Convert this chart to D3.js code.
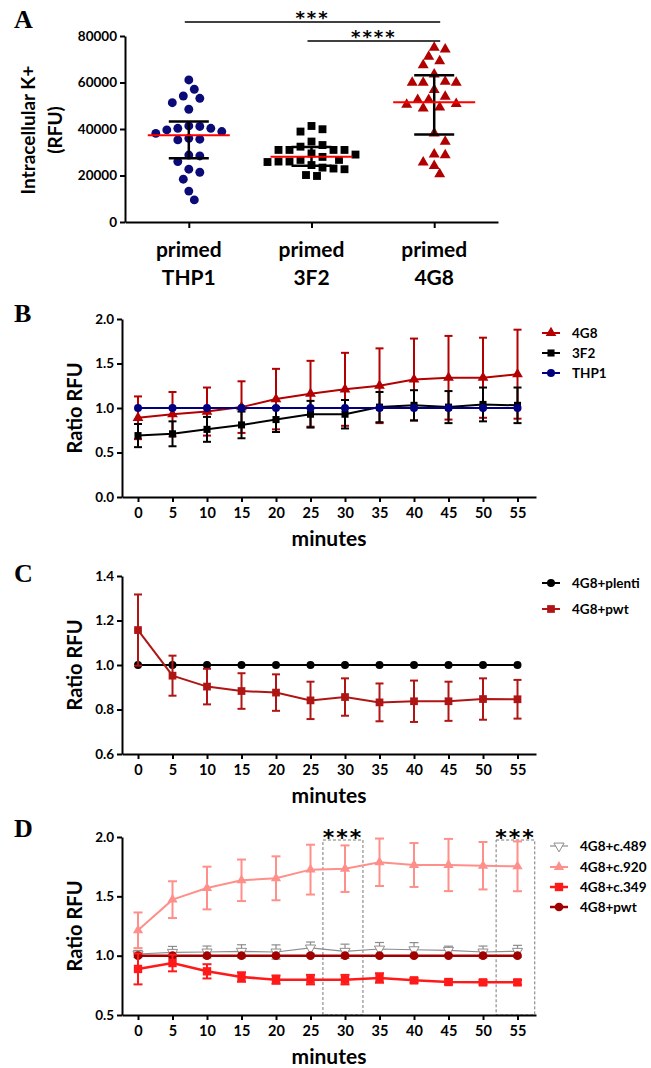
<!DOCTYPE html>
<html>
<head>
<meta charset="utf-8">
<script src="https://cdn.jsdelivr.net/npm/d3@7"></script>
<style>
  body { margin: 0; background: #fff; }
  svg text { font-family: Lato, "Open Sans", sans-serif; font-weight: bold; }
</style>
</head>
<body>
<svg id="fig" width="651" height="1068"></svg>
<script>
// ---- panel A: intracellular K+ scatter ----
const groupsA = ["THP1", "3F2", "4G8"];
const thp1Values = [61100, 57100, 54200, 53200, 51300, 48500, 41300, 41100, 40300, 40300, 39600, 38900,
    38100, 36000, 35600, 35300, 28800, 28400, 26000, 22700, 21400, 18400, 13300, 9500];
const f32Values = [41300, 39900, 38900, 34600, 33100, 32400, 31000, 31000, 31000, 31000, 29500, 29000,
    28000, 26700, 26000, 25800, 26000, 26700, 24500, 23400, 22700, 23000, 19800, 20200];
const g48Values = [75000, 74300, 71100, 69200, 67500, 63500, 60400, 60000, 60000, 60000, 56800, 53900,
    52500, 52500, 50800, 49300, 48900, 50500, 38100, 34600, 29100, 28800, 25700, 24200, 20600];
const meanA = [37300, 28100, 51500];
const upperA = [43200, 32300, 63100];
const lowerA = [27400, 24200, 37600];
const ticksA = [0, 20000, 40000, 60000, 80000];

// ---- time course panels ----
const minutes = [0, 5, 10, 15, 20, 25, 30, 35, 40, 45, 50, 55];

// B
const b4G8Mean = [0.89, 0.93, 0.96, 1.01, 1.10, 1.16, 1.21, 1.25, 1.32, 1.34, 1.34, 1.38];
const b4G8Err = [0.24, 0.25, 0.27, 0.29, 0.34, 0.37, 0.41, 0.42, 0.46, 0.47, 0.45, 0.50];
const b3F2Mean = [0.69, 0.71, 0.76, 0.81, 0.87, 0.93, 0.93, 1.01, 1.03, 1.01, 1.04, 1.03];
const b3F2Err = [0.13, 0.14, 0.14, 0.15, 0.14, 0.15, 0.16, 0.17, 0.17, 0.18, 0.19, 0.20];
const bTHP1Mean = [1, 1, 1, 1, 1, 1, 1, 1, 1, 1, 1, 1];

// C
const cPlentiMean = [1, 1, 1, 1, 1, 1, 1, 1, 1, 1, 1, 1];
const cPwtMean = [1.157, 0.952, 0.903, 0.883, 0.876, 0.841, 0.856, 0.832, 0.837, 0.837, 0.847, 0.846];
const cPwtErr = [0.16, 0.09, 0.08, 0.08, 0.082, 0.084, 0.084, 0.085, 0.093, 0.088, 0.093, 0.087];

// D
const d489Mean = [1.014, 1.028, 1.031, 1.037, 1.031, 1.065, 1.037, 1.056, 1.05, 1.045, 1.031, 1.037];
const d489Err = [0.03, 0.05, 0.05, 0.055, 0.06, 0.05, 0.06, 0.055, 0.06, 0.035, 0.05, 0.05];
const d920Mean = [1.214, 1.472, 1.570, 1.635, 1.652, 1.725, 1.733, 1.787, 1.764, 1.764, 1.758, 1.753];
const d920Err = [0.15, 0.155, 0.18, 0.175, 0.185, 0.21, 0.196, 0.2, 0.185, 0.22, 0.2, 0.21];
const d349Mean = [0.888, 0.938, 0.868, 0.82, 0.798, 0.798, 0.798, 0.812, 0.792, 0.778, 0.775, 0.775];
const d349Err = [0.13, 0.07, 0.06, 0.04, 0.035, 0.04, 0.04, 0.04, 0.02, 0.02, 0.02, 0.02];
const dPwtMean = [1, 1, 1, 1, 1, 1, 1, 1, 1, 1, 1, 1];
const dSigWindows = [[26.8, 32.6], [51.9, 57.5]];

const svg = d3.select("#fig");

function panelLetter(txt, y) {
    svg.append("text")
        .attr("x", 14).attr("y", y)
        .style("font-family", "'Liberation Serif', serif")
        .style("font-weight", "bold")
        .style("font-size", "26px")
        .text(txt);
}

function stars(x, y, label, size) {
    svg.append("text").attr("x", x).attr("y", y)
        .attr("text-anchor", "middle")
        .style("font-family", "'DejaVu Sans', sans-serif")
        .style("font-size", size + "px").style("letter-spacing", "2px")
        .text(label);
}

function styleAxis(sel, fontSize) {
    sel.selectAll("path.domain").attr("stroke", "#000").attr("stroke-width", 2);
    sel.selectAll(".tick line").attr("stroke", "#000").attr("stroke-width", 2);
    sel.selectAll(".tick text").attr("fill", "#000")
        .style("font-size", fontSize + "px")
        .style("font-family", "Lato, sans-serif").style("font-weight", "bold");
}

function marker(type, size) {
    const sym = { circle: d3.symbolCircle, square: d3.symbolSquare, tri: d3.symbolTriangle, triDown: d3.symbolTriangle }[type];
    return d3.symbol().type(sym).size(size)();
}

// ---------------- Panel A ----------------
function drawPanelA() {
    panelLetter("A", 28);
    const x = d3.scalePoint().domain(groupsA).range([125, 498]).padding(0.52);
    const y = d3.scaleLinear().domain([0, 80000]).range([222, 36]);

    const yAx = svg.append("g").attr("transform", "translate(125,0)")
        .call(d3.axisLeft(y).tickValues(ticksA).tickFormat(d3.format("d")).tickSize(5).tickSizeOuter(0).tickPadding(3));
    styleAxis(yAx, 13.5);
    const xAx = svg.append("g").attr("transform", "translate(0,222)")
        .call(d3.axisBottom(x).tickSize(6).tickSizeOuter(0).tickFormat(""));
    styleAxis(xAx, 13);

    groupsA.forEach(gname => {
        const t = svg.append("text").attr("text-anchor", "middle").style("font-size", "21px");
        t.append("tspan").attr("x", x(gname)).attr("y", 257).text("primed");
        t.append("tspan").attr("x", x(gname)).attr("y", 285).text(gname);
    });

    svg.append("text").attr("transform", "translate(35,130) rotate(-90)")
        .attr("text-anchor", "middle").style("font-size", "19px").text("Intracellular K+");
    svg.append("text").attr("transform", "translate(62,130) rotate(-90)")
        .attr("text-anchor", "middle").style("font-size", "19px").text("(RFU)");

    // beeswarm placement
    function swarm(values, cx, d, step) {
        const pts = values.map(v => ({ v: v, y: y(v) })).sort((a, b) => a.y - b.y);
        const placed = [];
        pts.forEach(p => {
            for (let k = 0; k < 60; k++) {
                const off = (k % 2 ? 1 : -1) * Math.ceil(k / 2) * step;
                if (placed.every(q => Math.hypot(q.x - (cx + off), q.y - p.y) >= d)) { p.x = cx + off; break; }
            }
            placed.push(p);
        });
        return placed;
    }

    const sets = [
        { name: "THP1", vals: thp1Values, type: "circle", color: "#0b0b78", size: 62 },
        { name: "3F2", vals: f32Values, type: "square", color: "#000", size: 62 },
        { name: "4G8", vals: g48Values, type: "tri", color: "#b00000", size: 52 }
    ];
    sets.forEach(s => {
        const pts = swarm(s.vals, x(s.name), 10, 5.5);
        svg.append("g").selectAll("path").data(pts).enter().append("path")
            .attr("d", marker(s.type, s.size))
            .attr("transform", d => `translate(${d.x},${d.y})`)
            .attr("fill", s.color);
    });

    // error bars and mean line
    groupsA.forEach((gname, i) => {
        const cx = x(gname);
        const eg = svg.append("g").attr("stroke", "#000").attr("stroke-width", 2.5);
        eg.append("line").attr("x1", cx).attr("x2", cx).attr("y1", y(lowerA[i])).attr("y2", y(upperA[i]));
        [lowerA[i], upperA[i]].forEach(v => {
            eg.append("line").attr("x1", cx - 20).attr("x2", cx + 20).attr("y1", y(v)).attr("y2", y(v));
        });
        svg.append("line").attr("x1", cx - 41).attr("x2", cx + 41)
            .attr("y1", y(meanA[i])).attr("y2", y(meanA[i]))
            .attr("stroke", "#ff0000").attr("stroke-width", 2);
    });

    // significance bars
    const sig = [
        { from: "THP1", to: "4G8", yLine: 22, label: "***" },
        { from: "3F2", to: "4G8", yLine: 41, label: "****" }
    ];
    sig.forEach(s => {
        const x1 = x(s.from) - 4, x2 = x(s.to) + 6;
        svg.append("line").attr("x1", x1).attr("x2", x2).attr("y1", s.yLine).attr("y2", s.yLine)
            .attr("stroke", "#000").attr("stroke-width", 1.5);
        stars((x1 + x2) / 2, s.yLine + 2, s.label, 18);
    });
}

// ---------------- time course panels ----------------
function drawLinePanel(cfg) {
    panelLetter(cfg.letter, cfg.letterY);
    const x = d3.scaleLinear().domain([-2.32, 57.68]).range([122, 536]);
    const y = d3.scaleLinear().domain(cfg.yDomain).range([cfg.bottom, cfg.top]);

    // significance windows (panel D)
    (cfg.windows || []).forEach(w => {
        svg.append("rect").attr("x", x(w[0])).attr("y", cfg.top + 3)
            .attr("width", x(w[1]) - x(w[0])).attr("height", cfg.bottom - cfg.top - 3)
            .attr("fill", "none").attr("stroke", "#777").attr("stroke-width", 1)
            .attr("stroke-dasharray", "3,2");
        stars(x((w[0] + w[1]) / 2), cfg.top + 8, "***", 22);
    });

    const yAx = svg.append("g").attr("transform", "translate(122,0)")
        .call(d3.axisLeft(y).tickValues(cfg.ticks).tickFormat(d3.format(".1f")).tickSize(5).tickSizeOuter(0).tickPadding(3));
    styleAxis(yAx, 13.5);
    const xAx = svg.append("g").attr("transform", `translate(0,${cfg.bottom})`)
        .call(d3.axisBottom(x).tickValues(minutes).tickSize(5).tickSizeOuter(0).tickPadding(6));
    styleAxis(xAx, 14.5);

    svg.append("text").attr("x", 329).attr("y", cfg.bottom + 49)
        .attr("text-anchor", "middle").style("font-size", "21px").text("minutes");
    svg.append("text").attr("transform", `translate(82,${(cfg.top + cfg.bottom) / 2}) rotate(-90)`)
        .attr("text-anchor", "middle").style("font-size", "20px").text("Ratio RFU");

    const line = d3.line().x(d => x(d.t)).y(d => y(d.m));
    cfg.series.forEach(s => {
        const pts = minutes.map((t, i) => ({ t: t, m: s.mean[i], e: s.err ? s.err[i] : 0 }));
        const g = svg.append("g");
        // error bars
        const eb = g.append("g").attr("stroke", s.errColor || s.color).attr("stroke-width", s.errWidth || 2);
        pts.filter(d => d.e > 0).forEach(d => {
            const cx = x(d.t), y1 = y(d.m - d.e), y2 = y(d.m + d.e);
            eb.append("line").attr("x1", cx).attr("x2", cx).attr("y1", y1).attr("y2", y2);
            eb.append("line").attr("x1", cx - s.cap).attr("x2", cx + s.cap).attr("y1", y1).attr("y2", y1);
            eb.append("line").attr("x1", cx - s.cap).attr("x2", cx + s.cap).attr("y1", y2).attr("y2", y2);
        });
        g.append("path").datum(pts).attr("d", line)
            .attr("fill", "none").attr("stroke", s.color).attr("stroke-width", s.width);
        g.selectAll("path.mk").data(pts).enter().append("path").attr("class", "mk")
            .attr("d", marker(s.type, s.size))
            .attr("transform", d => `translate(${x(d.t)},${y(d.m)})` + (s.type === "triDown" ? " rotate(180)" : ""))
            .attr("fill", s.fill || s.color)
            .attr("stroke", s.fill ? s.color : "none").attr("stroke-width", 1);
    });

    // legend
    const lg = cfg.legend;
    lg.order.forEach((idx, k) => {
        const s = cfg.series[idx];
        const ly = lg.ys[k];
        svg.append("line").attr("x1", lg.x0).attr("x2", lg.x1).attr("y1", ly).attr("y2", ly)
            .attr("stroke", s.color).attr("stroke-width", s.width);
        svg.append("path").attr("d", marker(s.type, s.size))
            .attr("transform", `translate(${(lg.x0 + lg.x1) / 2},${ly})` + (s.type === "triDown" ? " rotate(180)" : ""))
            .attr("fill", s.fill || s.color).attr("stroke", s.fill ? s.color : "none");
        svg.append("text").attr("x", lg.tx).attr("y", ly + 5).style("font-size", "13.5px").text(s.name);
    });
}

drawPanelA();

drawLinePanel({
    letter: "B", letterY: 322, top: 319, bottom: 497, yDomain: [0, 2], ticks: [0, 0.5, 1, 1.5, 2],
    series: [
        { name: "4G8", mean: b4G8Mean, err: b4G8Err, color: "#b30000", type: "tri", size: 50, width: 2, cap: 4 },
        { name: "3F2", mean: b3F2Mean, err: b3F2Err, color: "#000", type: "square", size: 50, width: 2, cap: 4 },
        { name: "THP1", mean: bTHP1Mean, color: "#000080", type: "circle", size: 50, width: 2, cap: 4 }
    ],
    legend: { x0: 542, x1: 560, tx: 572, ys: [333, 353, 373], order: [0, 1, 2] }
});

drawLinePanel({
    letter: "C", letterY: 582, top: 576, bottom: 754, yDomain: [0.6, 1.4], ticks: [0.6, 0.8, 1.0, 1.2, 1.4],
    series: [
        { name: "4G8+plenti", mean: cPlentiMean, color: "#000", type: "circle", size: 50, width: 2, cap: 4 },
        { name: "4G8+pwt", mean: cPwtMean, err: cPwtErr, color: "#b01515", type: "square", size: 60, width: 2, cap: 4 }
    ],
    legend: { x0: 542, x1: 560, tx: 572, ys: [583, 609], order: [0, 1] }
});

drawLinePanel({
    letter: "D", letterY: 837, top: 837, bottom: 1015, yDomain: [0.5, 2.0], ticks: [0.5, 1.0, 1.5, 2.0],
    windows: dSigWindows,
    series: [
        { name: "4G8+c.920", mean: d920Mean, err: d920Err, color: "#ff8f8a", type: "tri", size: 45, width: 2, cap: 4.5 },
        { name: "4G8+c.489", mean: d489Mean, err: d489Err, color: "#8c8c8c", fill: "#fff", type: "triDown", size: 45, width: 1.2, errWidth: 1.2, cap: 4.5 },
        { name: "4G8+pwt", mean: dPwtMean, color: "#a00000", type: "circle", size: 60, width: 2.5, cap: 4.5 },
        { name: "4G8+c.349", mean: d349Mean, err: d349Err, color: "#ff1a1a", type: "square", size: 70, width: 2.5, cap: 4.5 }
    ],
    legend: { x0: 550, x1: 568, tx: 580, ys: [846, 867, 887, 907], order: [1, 0, 3, 2] }
});
</script>
</body>
</html>
